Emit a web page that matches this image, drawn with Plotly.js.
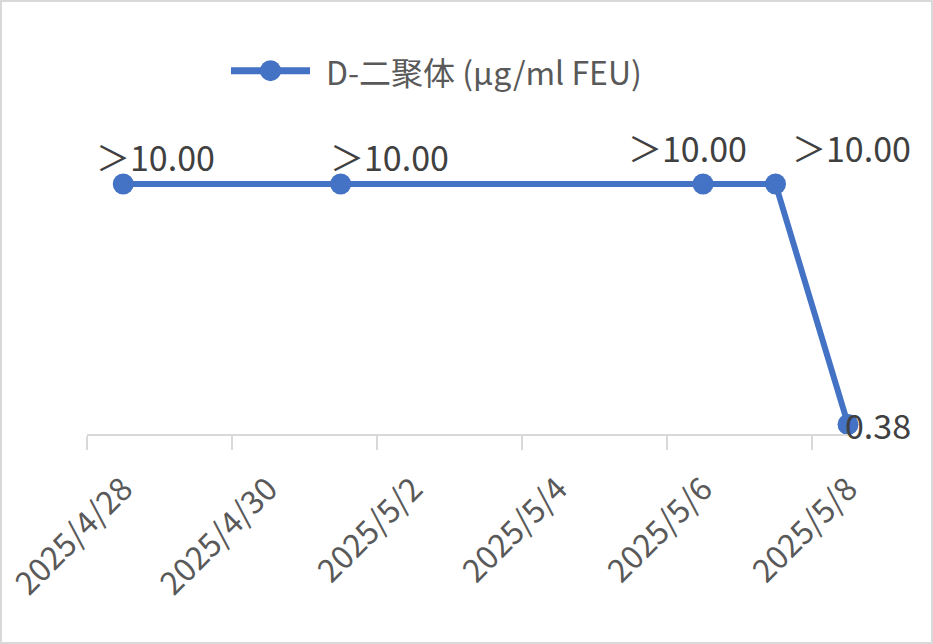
<!DOCTYPE html>
<html>
<head>
<meta charset="utf-8">
<script src="https://cdn.plot.ly/plotly-3.0.1.min.js"></script>
<style>
  html, body { margin: 0; padding: 0; background: #ffffff; }
  #chart { position: absolute; left: 0; top: 0; width: 933px; height: 644px; }
  #frame { position: absolute; left: 0; top: 0; width: 933px; height: 644px; box-sizing: border-box;
           border: 2px solid #d9d9d9; pointer-events: none; z-index: 10; }
</style>
</head>
<body>
<div id="chart"></div>
<div id="frame"></div>
<script>
// ---- data ----
var dates = ['2025-04-28', '2025-05-01', '2025-05-06', '2025-05-07', '2025-05-08'];
var values = [10, 10, 10, 10, 0.38];
var pointLabels = ['＞10.00', '＞10.00', '＞10.00', '＞10.00', '0.38'];
var seriesName = 'D-二聚体 (μg/ml FEU)';
var tickDates = ['2025-04-28', '2025-04-30', '2025-05-02', '2025-05-04', '2025-05-06', '2025-05-08'];
var tickLabels = ['2025/4/28', '2025/4/30', '2025/5/2', '2025/5/4', '2025/5/6', '2025/5/8'];

// ---- styling ----
var FONT = '"Noto Sans CJK SC", "Noto Sans", sans-serif';
var COLOR = '#4472C4';
var labelShift = [[32, 28], [49, 28], [-16, 37], [76, 37], [30, 0]];

// pixel -> paper helpers for the hand-drawn legend (plot area: x 87..848, y 133.5..434.5)
function px(xp) { return (xp - 87) / 761; }
function py(yp) { return (434.5 - yp) / 301; }

var trace = {
  type: 'scatter',
  mode: 'lines+markers',
  x: dates,
  y: values,
  name: seriesName,
  line: { color: COLOR, width: 6 },
  marker: { color: COLOR, size: 21 },
  cliponaxis: false,
  showlegend: false,
  hoverinfo: 'x+y'
};

var annotations = dates.map(function (d, i) {
  return {
    x: d, y: values[i], xref: 'x', yref: 'y',
    text: pointLabels[i], showarrow: false,
    xanchor: 'center', yanchor: 'middle',
    xshift: labelShift[i][0], yshift: labelShift[i][1],
    font: { family: FONT, size: 34, color: '#404040' }
  };
});

// legend text
annotations.push({
  xref: 'paper', yref: 'paper', x: px(324), y: py(70),
  xanchor: 'left', yanchor: 'middle', showarrow: false,
  text: seriesName,
  font: { family: FONT, size: 32, color: '#595959' }
});

var shapes = [
  { type: 'line', xref: 'paper', yref: 'paper', x0: px(231), x1: px(310), y0: py(70), y1: py(70),
    line: { color: COLOR, width: 7 } },
  { type: 'circle', xref: 'paper', yref: 'paper', x0: px(260), x1: px(281), y0: py(80.5), y1: py(59.5),
    fillcolor: COLOR, line: { color: COLOR, width: 0 } }
];

var layout = {
  width: 933, height: 644,
  margin: { l: 87, r: 85, t: 133.5, b: 209.5, pad: 0 },
  paper_bgcolor: '#ffffff', plot_bgcolor: '#ffffff',
  showlegend: false,
  xaxis: {
    type: 'date',
    range: ['2025-04-27 12:00', '2025-05-08 00:00'],
    tickmode: 'array',
    tickvals: tickDates,
    ticktext: tickLabels,
    tickangle: -45,
    ticks: 'outside',
    ticklen: 22,
    tickcolor: 'rgba(0,0,0,0)',
    tickfont: { family: FONT, size: 32, color: '#595959' },
    showline: true,
    linecolor: '#d9d9d9',
    linewidth: 1.5,
    showgrid: false,
    zeroline: false,
    fixedrange: true,
    minor: {
      ticks: 'outside',
      ticklen: 14,
      tickwidth: 1.5,
      tickcolor: '#d9d9d9',
      tickmode: 'linear',
      tick0: '2025-04-27 12:00',
      dtick: 172800000,
      showgrid: false
    }
  },
  yaxis: {
    range: [0, 12],
    visible: false,
    showgrid: false,
    zeroline: false,
    fixedrange: true
  },
  annotations: annotations,
  shapes: shapes
};

Plotly.newPlot('chart', [trace], layout, { displayModeBar: false, staticPlot: true });
</script>
</body>
</html>
